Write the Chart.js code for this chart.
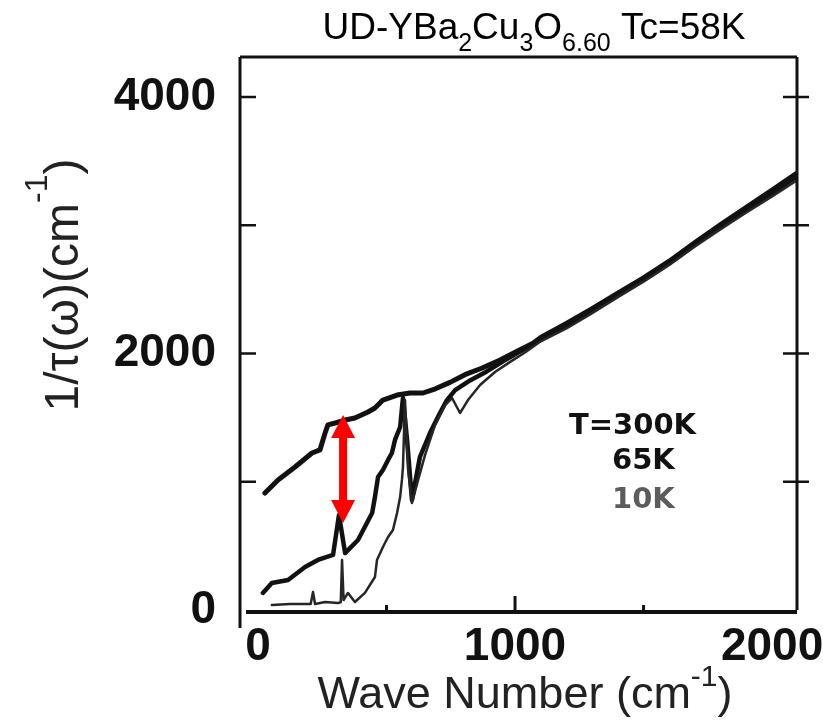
<!DOCTYPE html>
<html>
<head>
<meta charset="utf-8">
<script src="https://cdn.jsdelivr.net/npm/chart.js@4.4.0/dist/chart.umd.min.js"></script>
<style>
  html, body { margin: 0; padding: 0; background: #fff; }
  #wrap { width: 823px; height: 722px; }
</style>
</head>
<body>
<div id="wrap"><canvas id="chart" width="823" height="722"></canvas></div>
<script>
// 1/tau(omega) in cm^-1
const wave300K = [27, 78, 144, 210, 241, 261, 272, 300, 339, 377, 428, 455, 486, 541, 591, 642, 690, 747, 805, 870,
  942, 1010, 1070, 1100, 1200, 1300, 1400, 1500, 1600, 1700, 1800, 1900, 2000, 2100];
const rate300K = [912, 1014, 1115, 1224, 1248, 1380, 1443, 1458, 1481, 1497, 1544, 1575, 1637, 1676, 1692, 1692, 1725, 1775, 1835, 1885,
  1949, 2020, 2080, 2125, 2235, 2350, 2470, 2590, 2720, 2865, 3005, 3140, 3275, 3410];

const wave65K = [19, 54, 117, 183, 233, 292, 315, 339, 389, 444, 455, 467, 486, 506, 521, 533, 553, 564, 580, 599,
  630, 669, 708, 735, 767, 825, 890, 950, 1010, 1070, 1100, 1200, 1300, 1400, 1500, 1600, 1700, 1800, 1900, 2000, 2100];
const rate65K = [133, 211, 234, 335, 390, 429, 741, 444, 546, 756, 881, 1037, 1092, 1170, 1224, 1326, 1427, 1653, 1326, 858,
  1193, 1380, 1536, 1637, 1715, 1790, 1860, 1935, 2005, 2070, 2110, 2215, 2335, 2455, 2575, 2705, 2850, 2990, 3120, 3250, 3385];

const wave10K = [54, 125, 183, 205, 214, 222, 261, 311, 322, 327, 333, 350, 377, 416, 455, 463, 486, 506, 525, 541,
  553, 560, 564, 572, 584, 599, 623, 650, 689, 728, 755, 786, 817, 864, 922, 981, 1040, 1100, 1200, 1300,
  1400, 1500, 1600, 1700, 1800, 1900, 2000, 2100];
const rate10K = [39, 47, 47, 47, 140, 47, 62, 55, 60, 390, 78, 133, 62, 133, 257, 390, 491, 569, 624, 756,
  881, 1014, 1115, 1637, 1092, 834, 1014, 1209, 1443, 1598, 1653, 1536, 1637, 1754, 1856, 1935, 2010, 2095, 2195, 2315,
  2440, 2560, 2690, 2835, 2970, 3100, 3225, 3355];

const xTickValues = [0, 500, 1000, 1500, 2000];
const xTickLabels = ['0', '', '1000', '', '2000'];
const yTickValues = [0, 1000, 2000, 3000, 4000];
const yTickLabels = ['0', '', '2000', '', '4000'];
const legendLabels = ['T=300K', '65K', '10K'];

// red double arrow: gap between 300K and 65K curves
const arrowWave = 331;
const arrowFrom = 678;
const arrowTo = 1520;

const toPoints = (xs, ys) => xs.map((v, i) => ({ x: v, y: ys[i] }));

const tickFont = { family: "'Liberation Sans', Arial, sans-serif", size: 46, weight: 'bold' };

// draws text made of pieces with sub/superscripts, baseline at y
function drawPieces(ctx, pieces, x, y, family) {
  let total = 0;
  pieces.forEach(p => {
    ctx.font = `${p.weight || 'normal'} ${p.size}px ${family}`;
    p.w = ctx.measureText(p.t).width;
    total += p.w;
  });
  let cx = x - total / 2;
  ctx.textAlign = 'left';
  ctx.textBaseline = 'alphabetic';
  pieces.forEach(p => {
    ctx.font = `${p.weight || 'normal'} ${p.size}px ${family}`;
    ctx.fillText(p.t, cx, y + (p.dy || 0));
    cx += p.w;
  });
}

const decorations = {
  id: 'decorations',
  afterDatasetsDraw(chart) {
    const { ctx, scales: { x, y } } = chart;
    const ax = x.getPixelForValue(arrowWave);
    const top = y.getPixelForValue(arrowTo);
    const bot = y.getPixelForValue(arrowFrom);
    ctx.save();
    ctx.fillStyle = '#ff0000';
    ctx.fillRect(ax - 4, top + 20, 8, bot - top - 40);
    ctx.beginPath();
    ctx.moveTo(ax, top);
    ctx.lineTo(ax + 12, top + 23);
    ctx.lineTo(ax - 12, top + 23);
    ctx.closePath();
    ctx.fill();
    ctx.beginPath();
    ctx.moveTo(ax, bot);
    ctx.lineTo(ax + 12, bot - 23);
    ctx.lineTo(ax - 12, bot - 23);
    ctx.closePath();
    ctx.fill();
    ctx.restore();
  },
  afterDraw(chart) {
    const { ctx, chartArea: a, scales: { x, y } } = chart;
    ctx.save();
    ctx.strokeStyle = '#111';
    ctx.lineCap = 'butt';

    // frame
    ctx.lineWidth = 3;
    ctx.beginPath();
    ctx.moveTo(a.left, a.top); ctx.lineTo(a.right, a.top);
    ctx.moveTo(a.right, a.top); ctx.lineTo(a.right, a.bottom);
    ctx.moveTo(a.left, a.top); ctx.lineTo(a.left, a.bottom + 18);
    ctx.stroke();
    ctx.lineWidth = 4;
    ctx.beginPath();
    ctx.moveTo(a.left + 6, a.bottom + 2); ctx.lineTo(a.right, a.bottom + 2);
    ctx.stroke();

    // y ticks, inward on the left, crossing on the right
    ctx.lineWidth = 2.5;
    yTickValues.forEach(v => {
      if (v === 0) return;
      const py = y.getPixelForValue(v);
      ctx.beginPath();
      ctx.moveTo(a.left, py); ctx.lineTo(a.left + 16, py);
      ctx.moveTo(a.right - 14, py); ctx.lineTo(a.right + 12, py);
      ctx.stroke();
    });
    // x ticks, inward
    ctx.lineWidth = 3;
    xTickValues.forEach(v => {
      if (v === 0 || v === 2000) return;
      const px = x.getPixelForValue(v);
      const len = v % 1000 === 0 ? 14 : 5;
      ctx.beginPath();
      ctx.moveTo(px, a.bottom); ctx.lineTo(px, a.bottom - len);
      ctx.stroke();
    });

    ctx.fillStyle = '#000';
    const sans = "'Liberation Sans', Arial, sans-serif";
    // title
    drawPieces(ctx, [
      { t: 'UD-YBa', size: 37 },
      { t: '2', size: 25, dy: 12 },
      { t: 'Cu', size: 37 },
      { t: '3', size: 25, dy: 12 },
      { t: 'O', size: 37 },
      { t: '6.60', size: 25, dy: 12 },
      { t: ' Tc=58K', size: 37 }
    ], 534, 39, sans);

    // x axis title
    ctx.fillStyle = '#222';
    drawPieces(ctx, [
      { t: 'Wave Number (cm', size: 45 },
      { t: '-1', size: 30, dy: -22 },
      { t: ')', size: 45 }
    ], 525, 708, sans);

    // y axis title, rotated
    ctx.save();
    ctx.translate(78, 285);
    ctx.rotate(-Math.PI / 2);
    drawPieces(ctx, [
      { t: '1/\u03c4(\u03c9)(cm', size: 48 },
      { t: '-1', size: 32, dy: -31 },
      { t: ')', size: 48 }
    ], 0, 0, sans);
    ctx.restore();

    // legend text
    const dv = "'DejaVu Sans', sans-serif";
    ctx.textAlign = 'left';
    ctx.textBaseline = 'alphabetic';
    ctx.font = `bold 29px ${dv}`;
    ctx.fillStyle = '#111';
    ctx.fillText(legendLabels[0], a.left + 329, 434);
    ctx.fillText(legendLabels[1], a.left + 372, 469);
    ctx.fillStyle = '#5c5c5c';
    ctx.fillText(legendLabels[2], a.left + 372, 508);
    ctx.restore();
  }
};

new Chart(document.getElementById('chart'), {
  type: 'line',
  data: {
    datasets: [
      { label: '10K', data: toPoints(wave10K, rate10K), borderColor: '#262626', borderWidth: 2.5 },
      { label: '65K', data: toPoints(wave65K, rate65K), borderColor: '#111', borderWidth: 4.5 },
      { label: '300K', data: toPoints(wave300K, rate300K), borderColor: '#111', borderWidth: 5 }
    ]
  },
  options: {
    responsive: false,
    animation: false,
    layout: { padding: { top: 57, right: 26, left: 0, bottom: 0 } },
    elements: {
      point: { radius: 0 },
      line: { tension: 0, borderJoinStyle: 'round', borderCapStyle: 'round' }
    },
    plugins: {
      legend: { display: false },
      tooltip: { enabled: false },
      title: { display: false }
    },
    scales: {
      x: {
        type: 'linear',
        min: -70,
        max: 2097,
        afterBuildTicks: s => { s.ticks = xTickValues.map(v => ({ value: v })); },
        afterFit: s => { s.height = 112; s.paddingLeft = 0; s.paddingRight = 0; },
        grid: { display: false, drawTicks: false },
        border: { display: false },
        ticks: {
          font: tickFont,
          color: '#111',
          padding: 10,
          maxRotation: 0,
          autoSkip: false,
          callback: (v) => xTickLabels[xTickValues.indexOf(v)]
        }
      },
      y: {
        min: 0,
        max: 4312,
        afterBuildTicks: s => { s.ticks = yTickValues.map(v => ({ value: v })); },
        afterFit: s => { s.width = 240; s.paddingTop = 0; s.paddingBottom = 0; },
        grid: { display: false, drawTicks: false },
        border: { display: false },
        ticks: {
          font: tickFont,
          color: '#111',
          padding: 24,
          autoSkip: false,
          callback: (v) => yTickLabels[yTickValues.indexOf(v)]
        }
      }
    }
  },
  plugins: [decorations]
});
</script>
</body>
</html>
